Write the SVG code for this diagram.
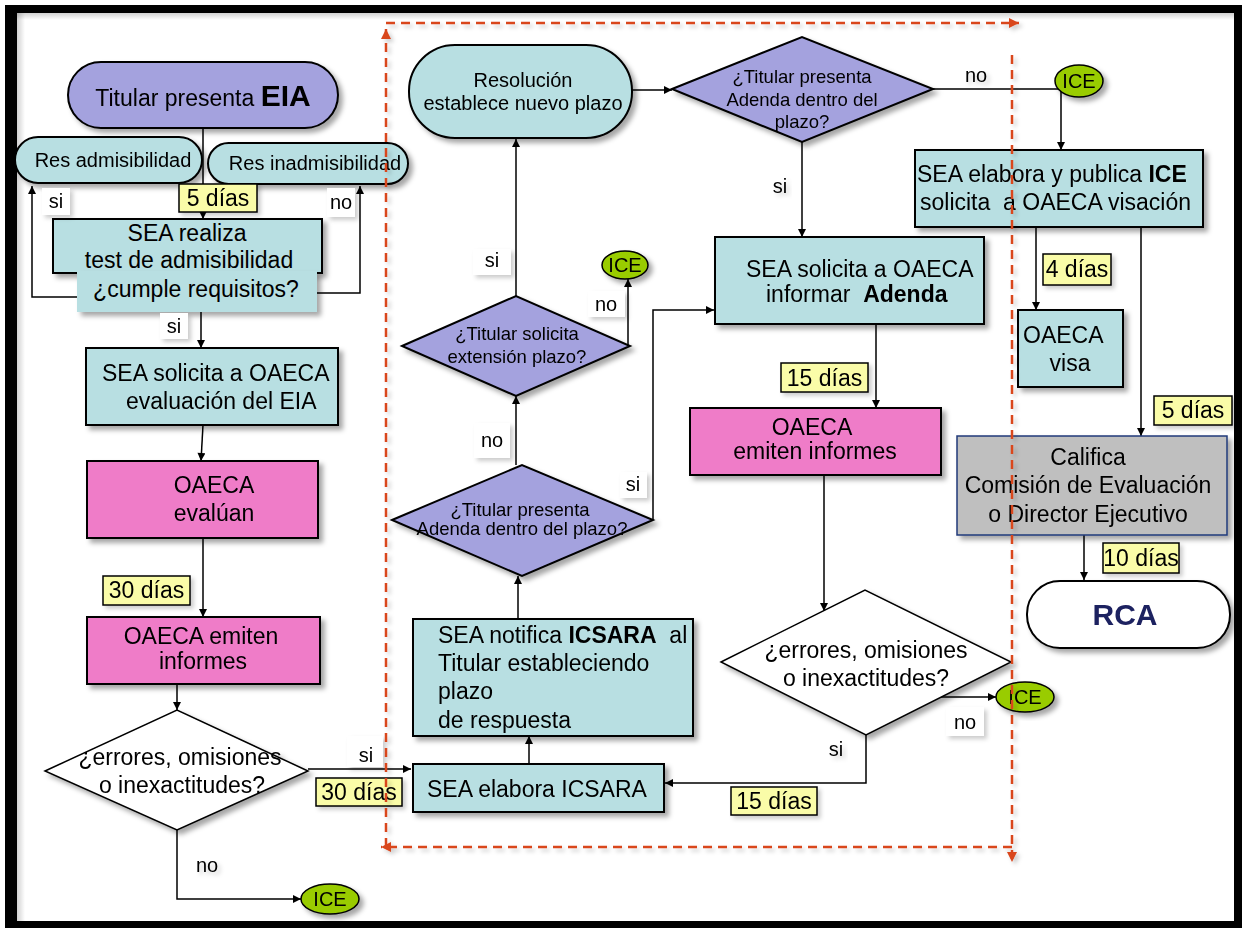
<svg xmlns="http://www.w3.org/2000/svg" width="1246" height="928" viewBox="0 0 1246 928">
<defs>
<style>
text{font-family:"Liberation Sans",Arial,sans-serif;fill:#000;white-space:pre}
.t23{font-size:23px}
.t20{font-size:20px}
.t18{font-size:18.5px}
.c{text-anchor:middle}
.b{font-weight:bold}
.cy{fill:#B8DFE2;stroke:#000;stroke-width:2}
.lv{fill:#A4A2DE;stroke:#000;stroke-width:2}
.pk{fill:#EF7BC8;stroke:#000;stroke-width:2}
.wd{fill:#fff;stroke:#000;stroke-width:1.5}
.ice{fill:#99CC00;stroke:#000;stroke-width:1.5}
.yl{fill:#FAFCA8;stroke:#000;stroke-width:1.5}
.wl{fill:#fff}
.ln{fill:none;stroke:#000;stroke-width:1.5}
.rd{fill:none;stroke:#D9461C;stroke-width:2.5;stroke-dasharray:9 6}
</style>
<filter id="sh" x="-15%" y="-15%" width="135%" height="145%">
<feDropShadow dx="4" dy="4" stdDeviation="2.5" flood-color="#000" flood-opacity="0.35"/>
</filter>
<filter id="sh2" x="-20%" y="-20%" width="150%" height="160%">
<feDropShadow dx="3" dy="3" stdDeviation="2" flood-color="#000" flood-opacity="0.2"/>
</filter>
<linearGradient id="gl" x1="0" y1="0" x2="1" y2="0">
<stop offset="0" stop-color="#000" stop-opacity="0.18"/>
<stop offset="1" stop-color="#000" stop-opacity="0"/>
</linearGradient>
<linearGradient id="gt" x1="0" y1="0" x2="0" y2="1">
<stop offset="0" stop-color="#000" stop-opacity="0.18"/>
<stop offset="1" stop-color="#000" stop-opacity="0"/>
</linearGradient>
<marker id="ah" viewBox="0 0 10 10" refX="10" refY="5" markerWidth="9" markerHeight="8" markerUnits="userSpaceOnUse" orient="auto">
<path d="M0,0 L10,5 L0,10 z" fill="#000"/>
</marker>
<marker id="rh" viewBox="0 0 10 10" refX="10" refY="5" markerWidth="11" markerHeight="10" markerUnits="userSpaceOnUse" orient="auto">
<path d="M0,0 L10,5 L0,10 z" fill="#D9461C"/>
</marker>
</defs>

<rect x="0" y="0" width="1246" height="928" fill="#fff"/>
<g id="frame">
<rect x="17" y="13" width="8" height="908" fill="url(#gl)"/>
<rect x="17" y="13" width="1217" height="7" fill="url(#gt)"/>
<rect x="9" y="9" width="1229" height="916" fill="none" stroke="#000" stroke-width="8"/>
<rect x="5" y="5" width="12" height="922" fill="#000"/>
</g>

<g id="connectors">
<path class="ln" d="M203,128 V219" marker-end="url(#ah)"/>
<path class="ln" d="M77,297 H32 V186" marker-end="url(#ah)"/>
<path class="ln" d="M317,293 H360 V186" marker-end="url(#ah)"/>
<path class="ln" d="M201,312 V348" marker-end="url(#ah)"/>
<path class="ln" d="M203,425 L201,461" marker-end="url(#ah)"/>
<path class="ln" d="M203,538 V617" marker-end="url(#ah)"/>
<path class="ln" d="M177,684 V710" marker-end="url(#ah)"/>
<path class="ln" d="M177,830 V899 H301" marker-end="url(#ah)"/>
<path class="ln" d="M308,769 H411" marker-end="url(#ah)"/>
<path class="ln" d="M529,764 V736" marker-end="url(#ah)"/>
<path class="ln" d="M518,619 V576" marker-end="url(#ah)"/>
<path class="ln" d="M653,520 V310 H714" marker-end="url(#ah)"/>
<path class="ln" d="M516,465 V396" marker-end="url(#ah)"/>
<path class="ln" d="M628,345 V279" marker-end="url(#ah)"/>
<path class="ln" d="M516,296 V139" marker-end="url(#ah)"/>
<path class="ln" d="M632,90 H672" marker-end="url(#ah)"/>
<path class="ln" d="M802,142 V237" marker-end="url(#ah)"/>
<path class="ln" d="M933,89 H1061 V150" marker-end="url(#ah)"/>
<path class="ln" d="M876,324 V408" marker-end="url(#ah)"/>
<path class="ln" d="M824,475 V611" marker-end="url(#ah)"/>
<path class="ln" d="M937,697 H996" marker-end="url(#ah)"/>
<path class="ln" d="M866,735 V783 H665" marker-end="url(#ah)"/>
<path class="ln" d="M1036,227 V310" marker-end="url(#ah)"/>
<path class="ln" d="M1141,227 V436" marker-end="url(#ah)"/>
<path class="ln" d="M1084,535 V580" marker-end="url(#ah)"/>
</g>

<g id="n-titular" filter="url(#sh)">
<rect class="lv" x="68" y="62" width="270" height="66" rx="33"/>
<text class="t23 c" x="203" y="106">Titular presenta <tspan class="b" style="font-size:30px">EIA</tspan></text>
</g>
<g id="n-resadm" filter="url(#sh)">
<rect class="cy" x="15" y="137" width="187" height="46" rx="23"/>
<text class="t20 c" x="113" y="167">Res admisibilidad</text>
</g>
<g id="n-resinadm" filter="url(#sh)">
<rect class="cy" x="208" y="143" width="200" height="41" rx="20.5"/>
<text class="t20 c" x="315" y="170">Res inadmisibilidad</text>
</g>
<g id="n-test">
<rect class="cy" x="53" y="219" width="269" height="54" filter="url(#sh)"/>
<rect x="77" y="271" width="240" height="41" fill="#B8DFE2" filter="url(#sh)"/>
<text class="t23 c" x="187" y="241">SEA realiza</text>
<text class="t23 c" x="189" y="268">test de admisibilidad</text>
<text class="t23 c" x="196" y="297">¿cumple requisitos?</text>
</g>
<g id="n-solicita-eval" filter="url(#sh)">
<rect class="cy" x="86" y="348" width="252" height="77"/>
<text class="t23" x="102" y="381">SEA solicita a OAECA</text>
<text class="t23" x="126" y="409">evaluación del EIA</text>
</g>
<g id="n-evaluan" filter="url(#sh)">
<rect class="pk" x="87" y="461" width="231" height="77"/>
<text class="t23 c" x="214" y="493">OAECA</text>
<text class="t23 c" x="214" y="521">evalúan</text>
</g>
<g id="n-emiten1" filter="url(#sh)">
<rect class="pk" x="87" y="617" width="233" height="67"/>
<text class="t23 c" x="201" y="644">OAECA emiten</text>
<text class="t23 c" x="203" y="669">informes</text>
</g>
<g id="n-errores1" filter="url(#sh)">
<polygon class="wd" points="45,771 177,710 308,771 177,830"/>
<text class="t23 c" x="180" y="765">¿errores, omisiones</text>
<text class="t23 c" x="182" y="793">o inexactitudes?</text>
</g>
<g id="n-ice1" filter="url(#sh)">
<ellipse class="ice" cx="330" cy="899" rx="29" ry="15"/>
<text class="t20 c" x="330" y="906">ICE</text>
</g>
<g id="n-elabora-icsara" filter="url(#sh)">
<rect class="cy" x="413" y="764" width="251" height="48"/>
<text class="t23" x="427" y="797">SEA elabora ICSARA</text>
</g>
<g id="n-notifica" filter="url(#sh)">
<rect class="cy" x="413" y="619" width="280" height="117"/>
<text class="t23" x="438" y="643">SEA notifica <tspan class="b">ICSARA</tspan>  al</text>
<text class="t23" x="438" y="671">Titular estableciendo</text>
<text class="t23" x="438" y="699">plazo</text>
<text class="t23" x="438" y="728">de respuesta</text>
</g>
<g id="n-presenta-adenda1" filter="url(#sh)">
<polygon class="lv" points="392,520 522,465 653,520 522,576"/>
<text class="t18 c" x="520" y="516">¿Titular presenta</text>
<text class="t18 c" x="522" y="535">Adenda dentro del plazo?</text>
</g>
<g id="n-extension" filter="url(#sh)">
<polygon class="lv" points="402,346 516,296 630,346 516,396"/>
<text class="t18 c" x="517" y="340">¿Titular solicita</text>
<text class="t18 c" x="517" y="363">extensión plazo?</text>
</g>
<g id="n-ice2" filter="url(#sh)">
<ellipse class="ice" cx="625" cy="265" rx="23" ry="14"/>
<text class="t20 c" x="625" y="272">ICE</text>
</g>
<g id="n-resolucion" filter="url(#sh)">
<rect class="cy" x="409" y="45" width="223" height="93" rx="46"/>
<text class="t20 c" x="523" y="87">Resolución</text>
<text class="t20 c" x="523" y="110">establece nuevo plazo</text>
</g>
<g id="n-presenta-adenda2" filter="url(#sh)">
<polygon class="lv" points="672,89 802,37 933,89 802,142"/>
<text class="t18 c" x="802" y="83">¿Titular presenta</text>
<text class="t18 c" x="802" y="106">Adenda dentro del</text>
<text class="t18 c" x="802" y="128">plazo?</text>
</g>
<g id="n-ice3" filter="url(#sh)">
<ellipse class="ice" cx="1079" cy="81" rx="24" ry="16"/>
<text class="t20 c" x="1079" y="88">ICE</text>
</g>
<g id="n-informar-adenda" filter="url(#sh)">
<rect class="cy" x="715" y="237" width="269" height="87"/>
<text class="t23" x="746" y="277">SEA solicita a OAECA</text>
<text class="t23" x="766" y="302">informar  <tspan class="b">Adenda</tspan></text>
</g>
<g id="n-emiten2" filter="url(#sh)">
<rect class="pk" x="690" y="408" width="251" height="67"/>
<text class="t23 c" x="812" y="435">OAECA</text>
<text class="t23 c" x="815" y="459">emiten informes</text>
</g>
<g id="n-errores2" filter="url(#sh)">
<polygon class="wd" points="721,662 865,590 1011,662 866,735"/>
<text class="t23 c" x="866" y="658">¿errores, omisiones</text>
<text class="t23 c" x="866" y="686">o inexactitudes?</text>
</g>
<g id="n-ice4" filter="url(#sh)">
<ellipse class="ice" cx="1025" cy="697" rx="29" ry="15"/>
<text class="t20 c" x="1025" y="704">ICE</text>
</g>
<g id="n-publica-ice" filter="url(#sh)">
<rect class="cy" x="915" y="150" width="288" height="77"/>
<text class="t23" x="917" y="182">SEA elabora y publica <tspan class="b">ICE</tspan></text>
<text class="t23" x="920" y="210">solicita  a OAECA visación</text>
</g>
<g id="n-visa" filter="url(#sh)">
<rect class="cy" x="1018" y="310" width="105" height="77"/>
<text class="t23" x="1023" y="343">OAECA</text>
<text class="t23 c" x="1070" y="371">visa</text>
</g>
<g id="n-califica" filter="url(#sh)">
<rect x="957" y="436" width="270" height="99" fill="#BFBFBF" stroke="#1F3A7A" stroke-width="1.5"/>
<text class="t23 c" x="1088" y="465">Califica</text>
<text class="t23 c" x="1088" y="493">Comisión de Evaluación</text>
<text class="t23 c" x="1088" y="522">o Director Ejecutivo</text>
</g>
<g id="n-rca" filter="url(#sh)">
<rect x="1027" y="581" width="203" height="67" rx="33" fill="#fff" stroke="#000" stroke-width="2"/>
<text class="c b" x="1125" y="625" style="font-size:30px;fill:#1F2060">RCA</text>
</g>

<g id="labels">
<g filter="url(#sh2)">
<rect class="yl" x="179" y="184" width="78" height="28"/>
<text class="t23 c" x="218" y="206">5 días</text>
</g>
<g filter="url(#sh2)">
<rect class="wl" x="42" y="188" width="28" height="27"/>
<text class="t20 c" x="56" y="208">si</text>
</g>
<g filter="url(#sh2)">
<rect class="wl" x="327" y="188" width="28" height="29"/>
<text class="t20 c" x="341" y="209">no</text>
</g>
<g filter="url(#sh2)">
<rect class="wl" x="160" y="313" width="28" height="26"/>
<text class="t20 c" x="174" y="333">si</text>
</g>
<g filter="url(#sh2)">
<rect class="yl" x="103" y="576" width="87" height="29"/>
<text class="t23 c" x="146.5" y="598">30 días</text>
</g>
<text class="t20 c" x="207" y="872" filter="url(#sh2)">no</text>
<g filter="url(#sh2)">
<rect class="wl" x="347" y="736" width="36" height="31"/>
<text class="t20 c" x="366" y="762">si</text>
</g>
<g filter="url(#sh2)">
<rect class="yl" x="316" y="778" width="86" height="28"/>
<text class="t23 c" x="359" y="800">30 días</text>
</g>
<g filter="url(#sh2)">
<rect class="wl" x="620" y="472" width="27" height="26"/>
<text class="t20 c" x="633" y="491">si</text>
</g>
<g filter="url(#sh2)">
<rect class="wl" x="474" y="423" width="36" height="35"/>
<text class="t20 c" x="492" y="447">no</text>
</g>
<g filter="url(#sh2)">
<rect class="wl" x="588" y="291" width="37" height="26"/>
<text class="t20 c" x="606" y="311">no</text>
</g>
<g filter="url(#sh2)">
<rect class="wl" x="473" y="249" width="38" height="26"/>
<text class="t20 c" x="492" y="267">si</text>
</g>
<text class="t20 c" x="780" y="193" filter="url(#sh2)">si</text>
<text class="t20 c" x="976" y="82" filter="url(#sh2)">no</text>
<g filter="url(#sh2)">
<rect class="yl" x="781" y="363" width="87" height="29"/>
<text class="t23 c" x="824.5" y="386">15 días</text>
</g>
<g filter="url(#sh2)">
<rect class="wl" x="946" y="707" width="38" height="29"/>
<text class="t20 c" x="965" y="729">no</text>
</g>
<text class="t20 c" x="836" y="756" filter="url(#sh2)">si</text>
<g filter="url(#sh2)">
<rect class="yl" x="731" y="787" width="86" height="28"/>
<text class="t23 c" x="774" y="809">15 días</text>
</g>
<g filter="url(#sh2)">
<rect class="yl" x="1043" y="254" width="68" height="31"/>
<text class="t23 c" x="1077" y="277">4 días</text>
</g>
<g filter="url(#sh2)">
<rect class="yl" x="1154" y="396" width="78" height="29"/>
<text class="t23 c" x="1193" y="418">5 días</text>
</g>
<g filter="url(#sh2)">
<rect class="yl" x="1103" y="543" width="76" height="30"/>
<text class="t23 c" x="1141" y="566">10 días</text>
</g>
</g>

<g id="phase-loop" filter="url(#sh2)">
<path class="rd" d="M386,847 V29" marker-end="url(#rh)"/>
<path class="rd" d="M386,23 H1019" marker-end="url(#rh)"/>
<path class="rd" d="M1012,55 V862" marker-end="url(#rh)"/>
<path class="rd" d="M1012,847 H381" marker-end="url(#rh)"/>
</g>
</svg>
